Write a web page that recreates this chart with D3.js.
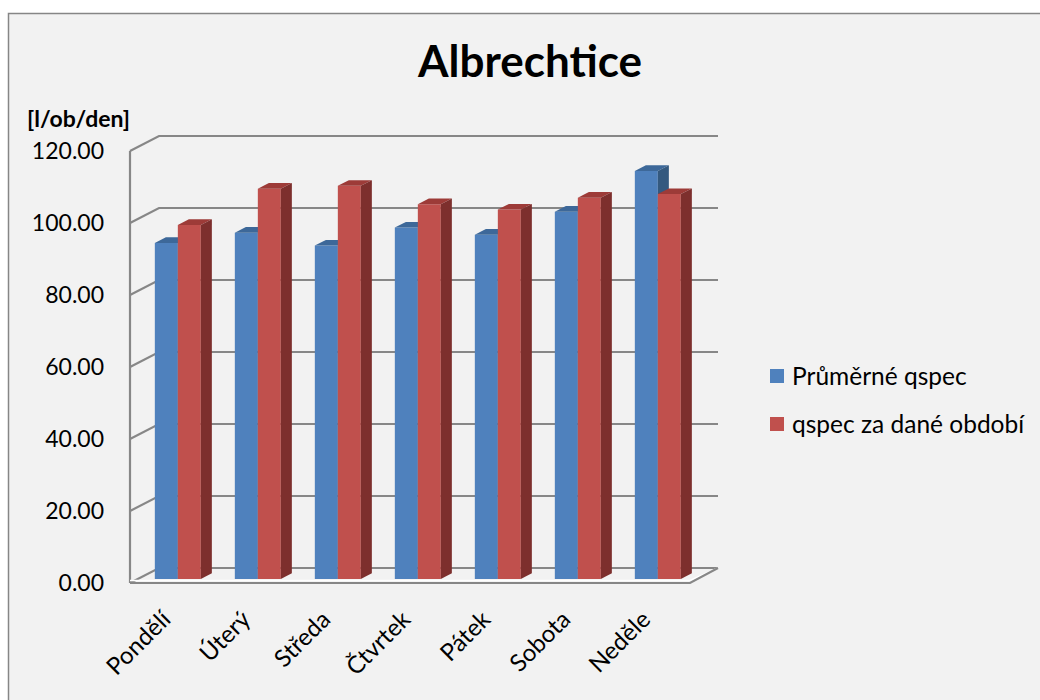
<!DOCTYPE html>
<html>
<head>
<meta charset="utf-8">
<script src="https://cdn.jsdelivr.net/npm/d3@7"></script>
<style>
  html, body { margin: 0; padding: 0; background: #ffffff; }
  svg { display: block; }
  text { font-family: Lato, "Open Sans", sans-serif; fill: #000; }
</style>
</head>
<body>
<script>
const categories = ["Pondělí", "Úterý", "Středa", "Čtvrtek", "Pátek", "Sobota", "Neděle"];
const seriesNames = ["Průměrné qspec", "qspec za dané období"];
const prumerne = [93.3, 96.2, 92.6, 97.6, 95.6, 102.0, 113.3];
const obdobi = [98.3, 108.4, 109.2, 104.1, 102.6, 105.9, 106.9];
const tickValues = [0, 20, 40, 60, 80, 100, 120];
const tickLabels = ["0.00", "20.00", "40.00", "60.00", "80.00", "100.00", "120.00"];
const titleText = "Albrechtice";
const unitText = "[l/ob/den]";

const W = 1040, H = 700;
const svg = d3.select("body").append("svg").attr("width", W).attr("height", H);

// chart area background + border
svg.append("rect").attr("x", 8.5).attr("y", 13.5).attr("width", 1040).attr("height", 700)
  .attr("fill", "#f2f2f2").attr("stroke", "#868686").attr("stroke-width", 1.5);

// 3D oblique projection
const x0 = 130;           // front-left x of plot
const DX = 29, DY = 15;   // depth vector (to the back wall)
const y = d3.scaleLinear().domain([0, 120]).range([583, 151]);
const x = d3.scaleBand().domain(categories).range([0, 560]).paddingInner(0.425).paddingOuter(0.2125);
const xs = d3.scaleBand().domain([0, 1]).range([0, x.bandwidth()]);
const z1 = 0.27, z2 = 0.65;
const proj = (px, v, z) => [x0 + px + z * DX, y(v) - z * DY];
const line = d3.line();

const gridColor = "#878787";
const backRight = x0 + 560 + DX - 1;

// gridlines (left wall + back wall)
const grid = svg.append("g");
tickValues.forEach(v => {
  grid.append("path")
    .attr("d", line([[x0, y(v)], [x0 + DX, y(v) - DY], [backRight, y(v) - DY]]))
    .attr("fill", "none").attr("stroke", gridColor).attr("stroke-width", 2.2);
});
// left wall front edge
grid.append("path").attr("d", line([[x0, y(0)], [x0, y(120)]]))
  .attr("fill", "none").attr("stroke", gridColor).attr("stroke-width", 2.2);
// floor front & right edges
grid.append("path").attr("d", line([[x0, y(0) - 2.5], [x0 + 560, y(0) - 2.5], [backRight, y(0) - DY]]))
  .attr("fill", "none").attr("stroke", "#ffffff").attr("stroke-width", 1.5);
grid.append("path").attr("d", line([[x0, y(0)], [x0 + 560, y(0)], [backRight, y(0) - DY]]))
  .attr("fill", "none").attr("stroke", gridColor).attr("stroke-width", 2.2);

// bars
const colors = [
  { front: "#4f81bd", top: "#3d6899", side: "#34597f" },
  { front: "#c0504d", top: "#9d3b38", side: "#7d2f2d" }
];
const series = [prumerne, obdobi];
const bars = svg.append("g");
categories.forEach((c, i) => {
  series.forEach((vals, s) => {
    const v = vals[i];
    const xl = x(c) + xs(s), xr = xl + xs.bandwidth();
    const col = colors[s];
    const g = bars.append("g");
    g.append("path").attr("d", line([proj(xl, 0, z1), proj(xl, v, z1), proj(xr, v, z1), proj(xr, 0, z1)]) + "Z")
      .attr("fill", col.front);
    g.append("path").attr("d", line([proj(xl, v, z1), proj(xl, v, z2), proj(xr, v, z2), proj(xr, v, z1)]) + "Z")
      .attr("fill", col.top);
    g.append("path").attr("d", line([proj(xr, 0, z1), proj(xr, v, z1), proj(xr, v, z2), proj(xr, 0, z2)]) + "Z")
      .attr("fill", col.side);
  });
});

// y tick labels
const yl = svg.append("g");
tickValues.forEach((v, i) => {
  yl.append("text").attr("x", 104).attr("y", y(v)).attr("dy", "0.35em")
    .attr("text-anchor", "end").style("font-size", "23px").text(tickLabels[i]);
});

// unit label
svg.append("text").attr("x", 27).attr("y", 127).style("font-size", "23px").style("font-weight", "bold").text(unitText);

// category labels
categories.forEach(c => {
  const cx = x0 + x(c) + x.bandwidth() / 2 + 2;
  svg.append("text").attr("transform", `translate(${cx},621) rotate(-45)`)
    .attr("text-anchor", "end").style("font-size", "24px").text(c);
});

// title
svg.append("text").attr("x", 530).attr("y", 77).attr("text-anchor", "middle")
  .style("font-size", "44px").style("font-weight", "bold").text(titleText);

// legend
const lg = svg.append("g");
seriesNames.forEach((n, i) => {
  const ly = 376 + i * 48;
  lg.append("rect").attr("x", 770).attr("y", ly - 7).attr("width", 14).attr("height", 14).attr("fill", colors[i].front);
  lg.append("text").attr("x", 792).attr("y", ly).attr("dy", "0.35em").style("font-size", "24.5px").text(n);
});
</script>
</body>
</html>
